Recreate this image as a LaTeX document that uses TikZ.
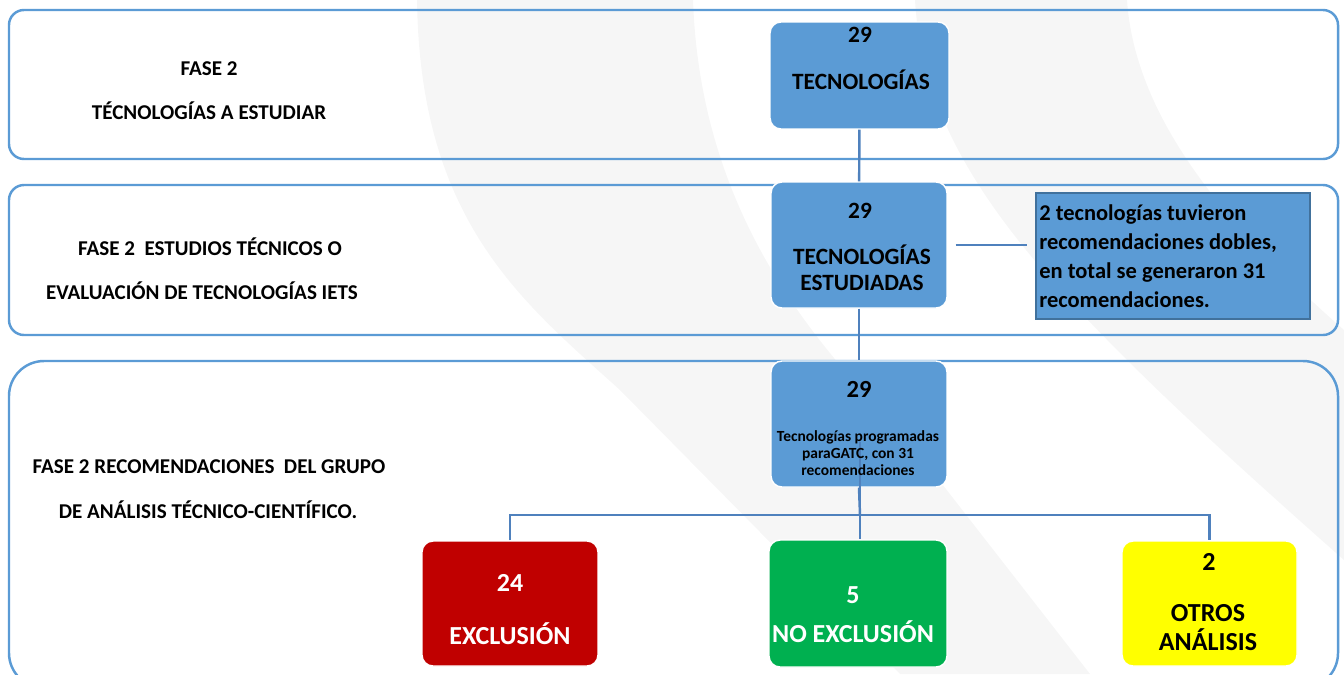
\documentclass[tikz,border=0pt]{standalone}
\usepackage{fontspec}
\setmainfont{Carlito}
\usetikzlibrary{positioning}
\definecolor{panelazul}{HTML}{5B9BD5}
\definecolor{lineaazul}{HTML}{4F81BD}
\definecolor{cajaazul}{HTML}{5B9BD5}
\definecolor{notaborde}{HTML}{41719C}
\definecolor{rojo}{HTML}{C00000}
\definecolor{verde}{HTML}{00B050}
\definecolor{amarillo}{HTML}{FFFF00}
\definecolor{fondo}{HTML}{F6F6F6}

\tikzset{
  panel/.style={draw=panelazul, line width=1.4pt},
  caja/.style={draw=white, line width=0.8pt, rounded corners=0.22cm, fill=cajaazul,
    minimum width=3.52cm, minimum height=2.52cm, inner sep=0pt},
  nota/.style={draw=notaborde, line width=1.1pt, fill=cajaazul, minimum width=5.48cm,
    minimum height=2.52cm, text width=5.35cm, align=flush left, inner xsep=1pt,
    font=\bfseries\fontsize{12.8}{16.4}\selectfont},
  fase/.style={inner sep=0pt, text height=7.7pt, text depth=0pt,
    font=\bfseries\fontsize{12}{14}\selectfont},
  grande/.style={inner sep=0pt, text height=8.6pt, text depth=0pt,
    font=\bfseries\fontsize{13.3}{16}\selectfont},
  rama/.style={inner sep=0pt, text height=9.5pt, text depth=0pt,
    font=\bfseries\fontsize{14.8}{17}\selectfont},
  conector/.style={draw=lineaazul, line width=1.4pt},
  fino/.style={draw=lineaazul, line width=0.6pt}
}

\begin{document}
\begin{tikzpicture}[x=0.02cm, y=-0.02cm]
\useasboundingbox (0,0) rectangle (1344,674);
\clip (0,0) rectangle (1344,674);

% fondo (marca de agua)
\fill[fondo] (417,0) .. controls (420,220) and (520,300) .. (620,390) -- (900,674)
  -- (1090,674) -- (900,430) .. controls (800,330) and (700,200) .. (693,0) -- cycle;
\fill[fondo] (915,0) .. controls (925,170) and (1050,300) .. (1344,560)
  -- (1344,330) .. controls (1230,230) and (1135,120) .. (1127,0) -- cycle;

% paneles de las fases
\draw[panel, rounded corners=0.3cm] (9,10) rectangle (1338,159);
\draw[panel, rounded corners=0.3cm] (9,185) rectangle (1338,335);
\draw[panel, rounded corners=0.7cm] (9,361) rectangle (1338,688);

\node[fase] (f1a) at (209,69) {FASE 2};
\node[fase] (f1b) at (209,113) {TÉCNOLOGÍAS A ESTUDIAR};
\node[fase] (f2a) at (210,249) {FASE 2~ ESTUDIOS TÉCNICOS O};
\node[fase] (f2b) at (202,293) {EVALUACIÓN DE TECNOLOGÍAS IETS};
\node[fase] (f3a) at (209,467) {FASE 2 RECOMENDACIONES~ DEL GRUPO};
\node[fase] (f3b) at (208,512) {DE ANÁLISIS TÉCNICO-CIENTÍFICO.};

% cajas
\node[caja, minimum width=3.58cm, minimum height=2.14cm] (tec) at (859.5,75.5) {};
\node[caja] (est) at (859,245) {};
\node[caja] (prog) at (859,424) {};
\node[nota] (nota) at (1173,256) {2 tecnologías tuvieron\\recomendaciones dobles,\\en total se generaron 31\\recomendaciones.};
\node[caja, fill=rojo, minimum height=2.5cm] (excl) at (510,603.5) {};
\node[caja, fill=verde, minimum width=3.56cm, minimum height=2.54cm] (noex) at (858,603.5) {};
\node[caja, fill=amarillo, minimum width=3.5cm, minimum height=2.5cm] (otros) at (1209.5,603.5) {};

% conectores
\draw[conector] (tec) -- (est);
\draw[conector] (est) -- (prog);
\draw[fino, shorten <=0.16cm, shorten >=0.16cm] (est.east) -- (est.east -| nota.west);
\coordinate (barra) at (860,515);
\draw[conector] (prog.south) -- (barra);
\draw[conector] (excl.north) |- (barra) -| (otros.north);
\coordinate (medio) at (860,442);
\draw[fino] (medio) -- (medio |- noex.north);

% textos de las cajas
\node[grande] (t1a) at (860,35) {29};
\node[grande] (t1b) at (861,82) {TECNOLOGÍAS};
\node[grande] (t2a) at (860,211) {29};
\node[grande] (t2b) at (862,257) {TECNOLOGÍAS};
\node[grande] (t2c) at (862,283) {ESTUDIADAS};
\node[grande, font=\bfseries\fontsize{14}{16}\selectfont] (t3a) at (859,390) {29};
\node[align=center, inner sep=0pt, font=\bfseries\fontsize{8.8}{9.6}\selectfont] (t3b) at (858,453)
  {Tecnologías programadas\\paraGATC, con 31\\recomendaciones};
\node[rama, text=white] (t4a) at (510,583) {24};
\node[rama, text=white] (t4b) at (510,636) {EXCLUSIÓN};
\node[rama, text=white] (t5a) at (853,595) {5};
\node[rama, text=white] (t5b) at (853,634) {NO EXCLUSIÓN};
\node[rama] (t6a) at (1209,562) {2};
\node[rama] (t6b) at (1208,613) {OTROS};
\node[rama] (t6c) at (1208,642) {ANÁLISIS};
\end{tikzpicture}
\end{document}
